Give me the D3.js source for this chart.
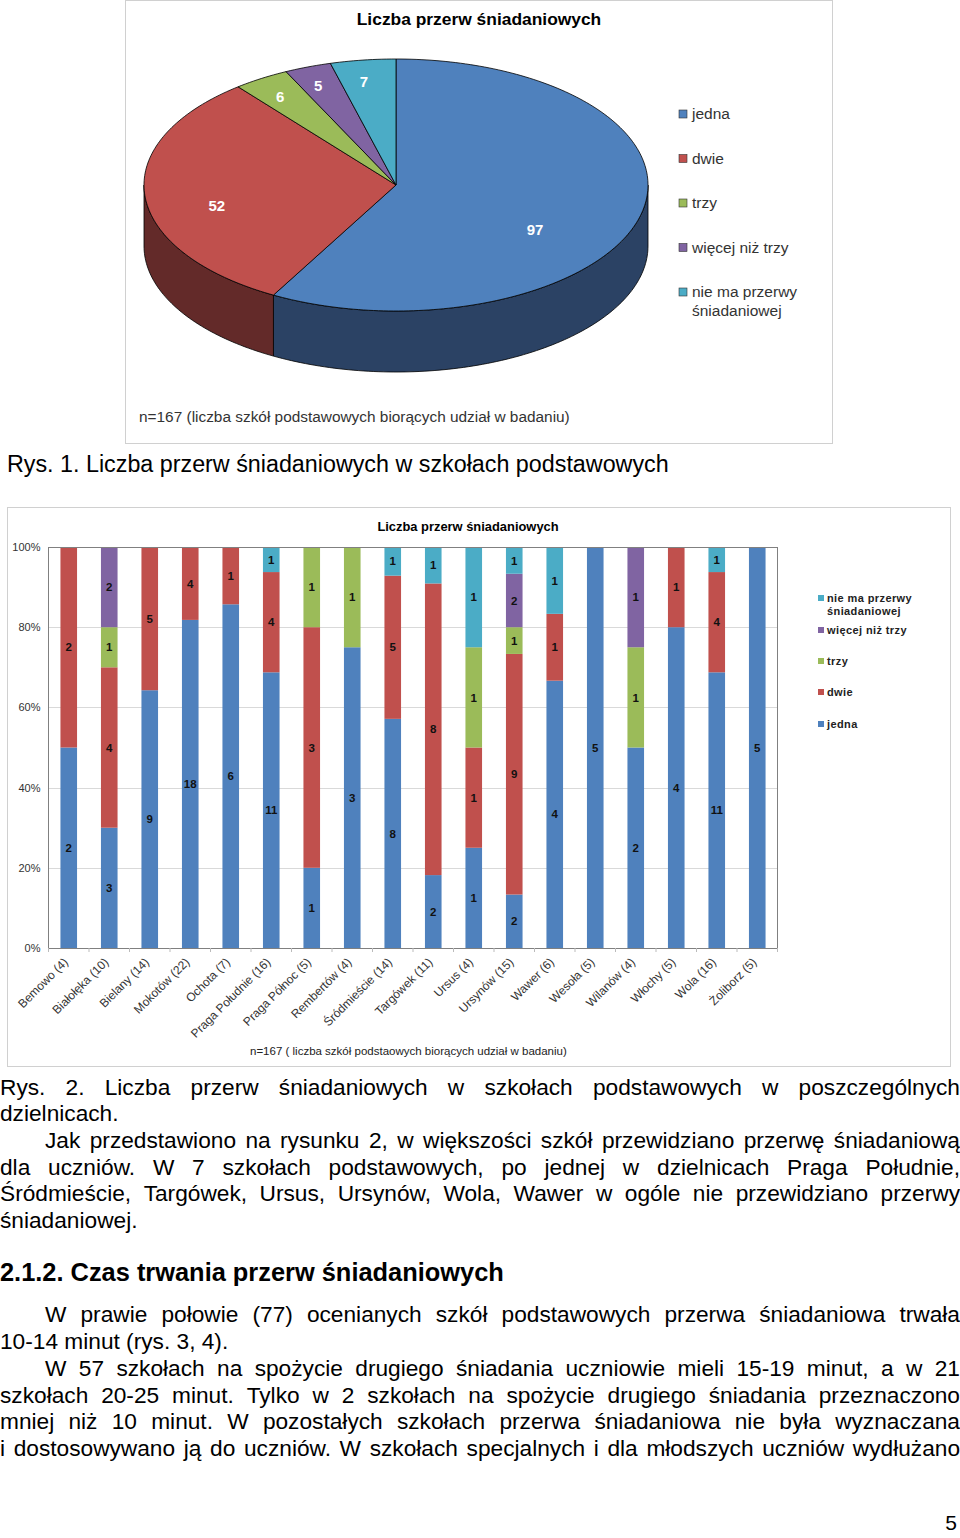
<!DOCTYPE html>
<html>
<head>
<meta charset="utf-8">
<script src="https://cdn.jsdelivr.net/npm/d3@7"></script>
<style>
  body { margin: 0; background: #fff; }
  svg text { font-family: "Liberation Sans", Arial, sans-serif; }
</style>
</head>
<body>
<div id="page"></div>
<script>
// ---- data ----
const categories = ["jedna", "dwie", "trzy", "więcej niż trzy", "nie ma przerwy śniadaniowej"];
const totals = [97, 52, 6, 5, 7];
const colors = ["#4f81bd", "#c0504d", "#9bbb59", "#8064a2", "#4bacc6"];
const sideColors = ["#2b4264", "#632a29", "#4f6230", "#413352", "#266070"];

const districts = ["Bemowo (4)", "Białołęka (10)", "Bielany (14)", "Mokotów (22)", "Ochota (7)",
    "Praga Południe (16)", "Praga Północ (5)", "Rembertów (4)", "Śródmieście (14)", "Targówek (11)",
    "Ursus (4)", "Ursynów (15)", "Wawer (6)", "Wesoła (5)", "Wilanów (4)", "Włochy (5)",
    "Wola (16)", "Żoliborz (5)"];
const jedna = [2, 3, 9, 18, 6, 11, 1, 3, 8, 2, 1, 2, 4, 5, 2, 4, 11, 5];
const dwie = [2, 4, 5, 4, 1, 4, 3, 0, 5, 8, 1, 9, 1, 0, 0, 1, 4, 0];
const trzy = [0, 1, 0, 0, 0, 0, 1, 1, 0, 0, 1, 1, 0, 0, 1, 0, 0, 0];
const wiecej = [0, 2, 0, 0, 0, 0, 0, 0, 0, 0, 0, 2, 0, 0, 1, 0, 0, 0];
const brak = [0, 0, 0, 0, 0, 1, 0, 0, 1, 1, 1, 1, 1, 0, 0, 0, 1, 0];
const yTicks = [0, 0.2, 0.4, 0.6, 0.8, 1];

const pieTitle = "Liczba przerw śniadaniowych";
const pieNote = "n=167 (liczba szkół podstawowych biorących udział w badaniu)";
const barNote = "n=167 ( liczba szkół podstaowych biorących udział w badaniu)";
const caption1 = "Rys. 1. Liczba przerw śniadaniowych w szkołach podstawowych";

// body text: [text, indent, justified, bold]
const bodyLines = [
    ["Rys. 2. Liczba przerw śniadaniowych w szkołach podstawowych w poszczególnych", 0, true],
    ["dzielnicach.", 0, false],
    ["Jak przedstawiono na rysunku 2, w większości szkół przewidziano przerwę śniadaniową", 45, true],
    ["dla uczniów. W 7 szkołach podstawowych, po jednej w dzielnicach Praga Południe,", 0, true],
    ["Śródmieście, Targówek, Ursus, Ursynów, Wola, Wawer w ogóle nie przewidziano przerwy", 0, true],
    ["śniadaniowej.", 0, false],
    ["", 0, false],
    ["2.1.2. Czas trwania przerw śniadaniowych", 0, false, true],
    ["", 0, false],
    ["W prawie połowie (77) ocenianych szkół podstawowych przerwa śniadaniowa trwała", 45, true],
    ["10-14 minut (rys. 3, 4).", 0, false],
    ["W 57 szkołach na spożycie drugiego śniadania uczniowie mieli 15-19 minut, a w 21", 45, true],
    ["szkołach 20-25 minut. Tylko w 2 szkołach na spożycie drugiego śniadania przeznaczono", 0, true],
    ["mniej niż 10 minut. W pozostałych szkołach przerwa śniadaniowa nie była wyznaczana", 0, true],
    ["i dostosowywano ją do uczniów. W szkołach specjalnych i dla młodszych uczniów wydłużano", 0, true],
];
const bodyLineY = [1087, 1113, 1140, 1167, 1193, 1220, 0, 1273, 0, 1314, 1341, 1368, 1395, 1421, 1448];

const W = 960, H = 1538;

const svg = d3.select("#page").append("svg")
    .attr("width", W).attr("height", H);

drawPie();
drawBars();
drawText();

function drawPie() {
    const g = svg.append("g");
    g.append("rect").attr("x", 125.5).attr("y", 0.5).attr("width", 707).attr("height", 443)
        .attr("fill", "#fff").attr("stroke", "#d0d0d0");

    g.append("text").attr("x", 479).attr("y", 25).attr("text-anchor", "middle")
        .attr("font-size", 17.4).attr("font-weight", "bold").text(pieTitle);

    const cx = 396, cy = 185, rx = 252, ry = 126, depth = 61;
    const P = (a, dy = 0) => [cx + rx * Math.sin(a), cy - ry * Math.cos(a) + dy];

    const arcs = d3.pie().sort(null)(totals);
    const line = d3.line();

    const sample = (a0, a1, dy) => {
        const n = Math.max(2, Math.ceil((a1 - a0) / 0.02));
        return d3.range(n + 1).map(i => P(a0 + (a1 - a0) * i / n, dy));
    };

    // sides (front half only: PI/2 .. 3PI/2)
    arcs.forEach((d, i) => {
        const a0 = Math.max(d.startAngle, Math.PI / 2);
        const a1 = Math.min(d.endAngle, Math.PI * 1.5);
        if (a1 <= a0) return;
        const pts = sample(a0, a1, 0).concat(sample(a0, a1, depth).reverse());
        g.append("path").attr("d", line(pts) + "Z")
            .attr("fill", sideColors[i]).attr("stroke", "#000").attr("stroke-width", 0.8);
    });

    // tops
    arcs.forEach((d, i) => {
        const pts = [[cx, cy]].concat(sample(d.startAngle, d.endAngle, 0));
        g.append("path").attr("d", line(pts) + "Z")
            .attr("fill", colors[i]).attr("stroke", "#000").attr("stroke-width", 0.8);
    });

    // value labels
    const sum = d3.sum(totals);
    arcs.forEach((d, i) => {
        const share = d.value / sum;
        const f = 0.84 - 0.45 * share;
        const mid = (d.startAngle + d.endAngle) / 2;
        const [x, y] = P(mid);
        g.append("text")
            .attr("x", cx + (x - cx) * f - 5 * (1 - share))
            .attr("y", cy + (y - cy) * f + share * depth * 0.84 - 3)
            .attr("dy", "0.36em").attr("text-anchor", "middle")
            .attr("fill", "#fff").attr("font-weight", "bold").attr("font-size", 15)
            .text(d.value);
    });

    // legend
    const leg = g.append("g").attr("transform", "translate(679,114)");
    categories.forEach((c, i) => {
        const item = leg.append("g").attr("transform", `translate(0,${i * 44.5})`);
        item.append("rect").attr("x", 0).attr("y", -4).attr("width", 8).attr("height", 8)
            .attr("fill", colors[i]).attr("stroke", "#333").attr("stroke-width", 0.6);
        const words = c === "nie ma przerwy śniadaniowej" ? ["nie ma przerwy", "śniadaniowej"] : [c];
        words.forEach((w, j) => {
            item.append("text").attr("x", 13).attr("y", j * 19).attr("dy", "0.35em")
                .attr("font-size", 15.5).attr("fill", "#333").text(w);
        });
    });

    g.append("text").attr("x", 139).attr("y", 422).attr("font-size", 15.4).attr("fill", "#333")
        .text(pieNote);

    svg.append("text").attr("x", 7).attr("y", 472).attr("font-size", 23.3).text(caption1);
}

function drawBars() {
    const g = svg.append("g");
    g.append("rect").attr("x", 7.5).attr("y", 507.5).attr("width", 943).attr("height", 559)
        .attr("fill", "#fff").attr("stroke", "#d0d0d0");

    g.append("text").attr("x", 468).attr("y", 531).attr("text-anchor", "middle")
        .attr("font-size", 12.9).attr("font-weight", "bold").text(pieTitle);

    const left = 48.5, right = 777.5, top = 547, bottom = 948;
    const x = d3.scaleBand().domain(districts).range([left, right]);
    const y = d3.scaleLinear().domain([0, 1]).range([bottom, top]);
    const barW = x.bandwidth() * 0.41;

    // gridlines
    g.append("g").selectAll("line").data(yTicks.slice(1, -1)).join("line")
        .attr("x1", left).attr("x2", right)
        .attr("y1", d => Math.round(y(d)) + 0.5).attr("y2", d => Math.round(y(d)) + 0.5)
        .attr("stroke", "#d9d9d9");

    const series = [jedna, dwie, trzy, wiecej, brak];
    const table = districts.map((name, i) => {
        const row = { name };
        categories.forEach((c, k) => { row[c] = series[k][i]; });
        return row;
    });
    const stacked = d3.stack().keys(categories).offset(d3.stackOffsetExpand)(table);

    stacked.forEach((layer, k) => {
        const lg = g.append("g");
        layer.forEach(seg => {
            const v = seg.data[layer.key];
            if (!v) return;
            const xc = x(seg.data.name) + x.bandwidth() / 2;
            lg.append("rect").attr("x", xc - barW / 2).attr("width", barW)
                .attr("y", y(seg[1])).attr("height", y(seg[0]) - y(seg[1]))
                .attr("fill", colors[k]);
            lg.append("text").attr("x", xc).attr("y", (y(seg[0]) + y(seg[1])) / 2)
                .attr("dy", "0.36em").attr("text-anchor", "middle")
                .attr("font-size", 11.5).attr("font-weight", "bold").attr("fill", "#111")
                .text(v);
        });
    });

    // plot frame
    g.append("rect").attr("x", left).attr("y", top + 0.5).attr("width", right - left)
        .attr("height", bottom - top).attr("fill", "none").attr("stroke", "#808080");

    // y axis
    const yAxis = g.append("g").attr("transform", `translate(${left},0)`)
        .call(d3.axisLeft(y).tickValues(yTicks).tickFormat(d3.format(".0%")).tickSize(0).tickPadding(8));
    yAxis.select(".domain").remove();
    yAxis.selectAll("text").attr("font-size", 11).attr("fill", "#333")
        .style("font-family", "Liberation Sans, Arial, sans-serif");

    // x axis ticks between categories
    g.append("g").selectAll("line").data(d3.range(districts.length + 1)).join("line")
        .attr("x1", i => left + i * x.step()).attr("x2", i => left + i * x.step())
        .attr("y1", bottom).attr("y2", bottom + 4).attr("stroke", "#bbb");

    g.append("g").selectAll("text").data(districts).join("text")
        .attr("transform", d => `translate(${x(d) + x.bandwidth() / 2 - 3},${bottom + 12}) rotate(-45)`)
        .attr("text-anchor", "end").attr("dy", "0.35em")
        .attr("font-size", 12).attr("fill", "#333").text(d => d);

    // legend (reverse order)
    const legItems = categories.map((c, i) => ({ c, i })).reverse();
    const legY = [598, 630, 661, 692, 724];
    legItems.forEach((d, j) => {
        const item = g.append("g").attr("transform", `translate(818,${legY[j]})`);
        item.append("rect").attr("x", 0).attr("y", -3).attr("width", 6).attr("height", 6)
            .attr("fill", colors[d.i]);
        const words = d.c === "nie ma przerwy śniadaniowej" ? ["nie ma przerwy", "śniadaniowej"] : [d.c];
        words.forEach((w, k) => {
            item.append("text").attr("x", 9).attr("y", k * 13).attr("dy", "0.35em")
                .attr("font-size", 11).attr("font-weight", "bold").attr("fill", "#222")
                .attr("letter-spacing", 0.4).text(w);
        });
    });

    g.append("text").attr("x", 250).attr("y", 1055).attr("font-size", 11.5).attr("fill", "#222")
        .text(barNote);
}

function drawText() {
    const fs = 22.7;
    const g = svg.append("g").attr("font-size", fs);
    bodyLines.forEach((l, i) => {
        const [txt, indent, justify, bold] = l;
        if (!txt) return;
        const yy = bodyLineY[i] + 8;
        if (!justify) {
            g.append("text").attr("x", indent).attr("y", yy)
                .attr("font-size", bold ? 25.4 : null)
                .attr("font-weight", bold ? "bold" : null).text(txt);
            return;
        }
        const lg = g.append("g");
        const words = txt.split(" ");
        const nodes = words.map(w => lg.append("text").attr("y", yy).text(w));
        const widths = nodes.map(n => n.node().getComputedTextLength());
        const minGap = fs * 0.22;
        let gap = (W - indent - d3.sum(widths)) / (words.length - 1);
        let sx = 1;
        if (gap < minGap) {
            gap = minGap;
            sx = (W - indent) / (d3.sum(widths) + gap * (words.length - 1));
        }
        let xx = 0;
        nodes.forEach((n, k) => { n.attr("x", xx); xx += widths[k] + gap; });
        lg.attr("transform", `translate(${indent},0) scale(${sx},1)`);
    });
    svg.append("text").attr("x", 957).attr("y", 1530).attr("text-anchor", "end")
        .attr("font-size", 21).text("5");
}
</script>
</body>
</html>
